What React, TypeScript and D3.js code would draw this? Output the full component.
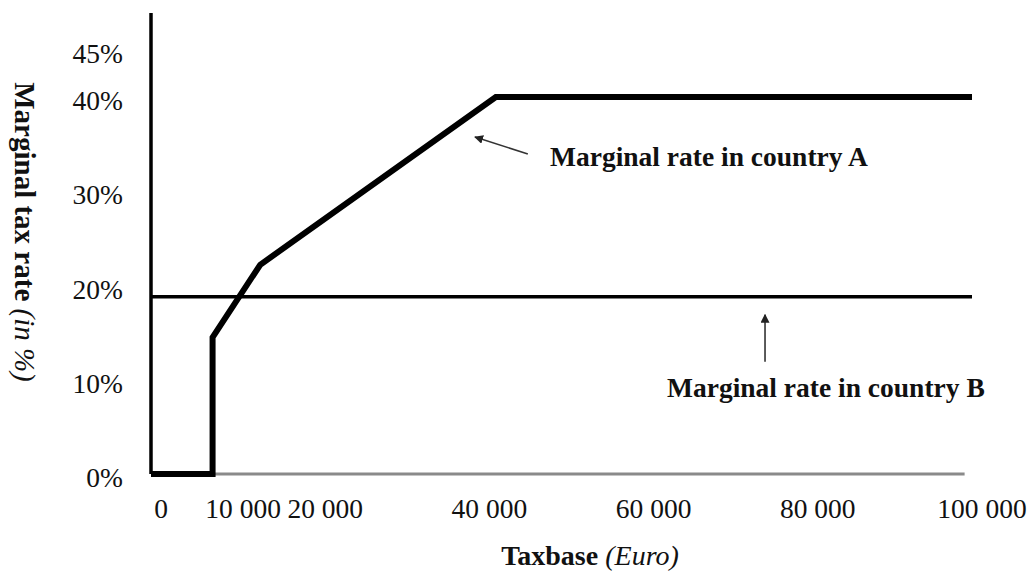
import React from "react";
import * as d3 from "d3";

// ---- data ----
const countryA: [number, number][] = [
  [0, 0],
  [7500, 0],
  [7500, 14.5],
  [13300, 22.2],
  [42000, 40],
  [100000, 40],
];
const countryB: [number, number][] = [
  [0, 18.8],
  [100000, 18.8],
];
const xTicks = [0, 10000, 20000, 40000, 60000, 80000, 100000];
const yTicks = [0, 10, 20, 30, 40, 45];

const labelA = "Marginal rate in country A";
const labelB = "Marginal rate in country B";
// annotation anchors in data units: [x, y]
const arrowA = { from: [45900, 33.95], to: [39460, 35.76] };
const arrowB = { from: [74790, 11.9], to: [74790, 16.9] };
const textAPos = [48600, 32.7];
const textBPos = [62850, 8.2];

const xAxisMax = 99100;
const yAxisMax = 48.9;

const W = 1029;
const H = 571;
const FONT = "'Liberation Serif', 'Times New Roman', serif";

const x = d3.scaleLinear().domain([0, 100000]).range([151, 972]);
const y = d3.scaleLinear().domain([0, 40]).range([474, 97]);

const spaceFmt = d3
  .formatLocale({ decimal: ".", thousands: " ", grouping: [3], currency: ["", ""] })
  .format(",");

const line = d3
  .line<[number, number]>()
  .x((d) => x(d[0]))
  .y((d) => y(d[1]));

export default function App() {
  return (
    <svg
      width={W}
      height={H}
      viewBox={`0 0 ${W} ${H}`}
      style={{ position: "absolute", left: 0, top: 0, background: "#fff" }}
      fontFamily={FONT}
    >
      <defs>
        <marker
          id="arrow"
          viewBox="0 0 10 10"
          refX={9}
          refY={5}
          markerWidth={9}
          markerHeight={9}
          markerUnits="userSpaceOnUse"
          orient="auto"
        >
          <path d="M0,0 L10,5 L0,10 z" fill="#222" />
        </marker>
      </defs>
      <rect x={0} y={0} width={W} height={H} fill="#fff" />

      {/* x axis line (gray) */}
      <line
        x1={x(0)}
        x2={x(xAxisMax)}
        y1={y(0)}
        y2={y(0)}
        stroke="#8a8a8a"
        strokeWidth={3}
      />
      {/* y axis line */}
      <line
        x1={x(0)}
        x2={x(0)}
        y1={y(0)}
        y2={y(yAxisMax)}
        stroke="#000"
        strokeWidth={3.5}
      />

      {/* y tick labels */}
      {yTicks.map((t) => (
        <text
          key={t}
          x={123}
          y={y(t) + 13}
          textAnchor="end"
          fontSize={27.5}
          fill="#111"
        >
          {t}%
        </text>
      ))}

      {/* x tick labels */}
      {xTicks.map((t) => (
        <text
          key={t}
          x={x(t) + 10}
          y={518}
          textAnchor="middle"
          fontSize={27.5}
          fill="#111"
        >
          {spaceFmt(t)}
        </text>
      ))}

      {/* country B */}
      <path d={line(countryB) || ""} fill="none" stroke="#000" strokeWidth={3.5} />
      {/* country A */}
      <path
        d={line(countryA) || ""}
        fill="none"
        stroke="#000"
        strokeWidth={6}
        strokeLinejoin="miter"
      />

      {/* arrows */}
      <line
        x1={x(arrowA.from[0])}
        y1={y(arrowA.from[1])}
        x2={x(arrowA.to[0])}
        y2={y(arrowA.to[1])}
        stroke="#333"
        strokeWidth={1.6}
        markerEnd="url(#arrow)"
      />
      <line
        x1={x(arrowB.from[0])}
        y1={y(arrowB.from[1])}
        x2={x(arrowB.to[0])}
        y2={y(arrowB.to[1])}
        stroke="#333"
        strokeWidth={1.6}
        markerEnd="url(#arrow)"
      />

      {/* annotations */}
      <text
        x={x(textAPos[0])}
        y={y(textAPos[1])}
        fontSize={27.5}
        fontWeight="bold"
        fill="#111"
      >
        {labelA}
      </text>
      <text
        x={x(textBPos[0])}
        y={y(textBPos[1])}
        fontSize={27.5}
        fontWeight="bold"
        fill="#111"
      >
        {labelB}
      </text>

      {/* x axis title */}
      <text x={590} y={565} textAnchor="middle" fontSize={28} fill="#111">
        <tspan fontWeight="bold">Taxbase </tspan>
        <tspan fontStyle="italic">(Euro)</tspan>
      </text>

      {/* y axis title */}
      <text
        transform="translate(15,232) rotate(90)"
        textAnchor="middle"
        fontSize={29}
        fill="#111"
      >
        <tspan fontWeight="bold">Marginal tax rate </tspan>
        <tspan fontStyle="italic">(in %)</tspan>
      </text>
    </svg>
  );
}
